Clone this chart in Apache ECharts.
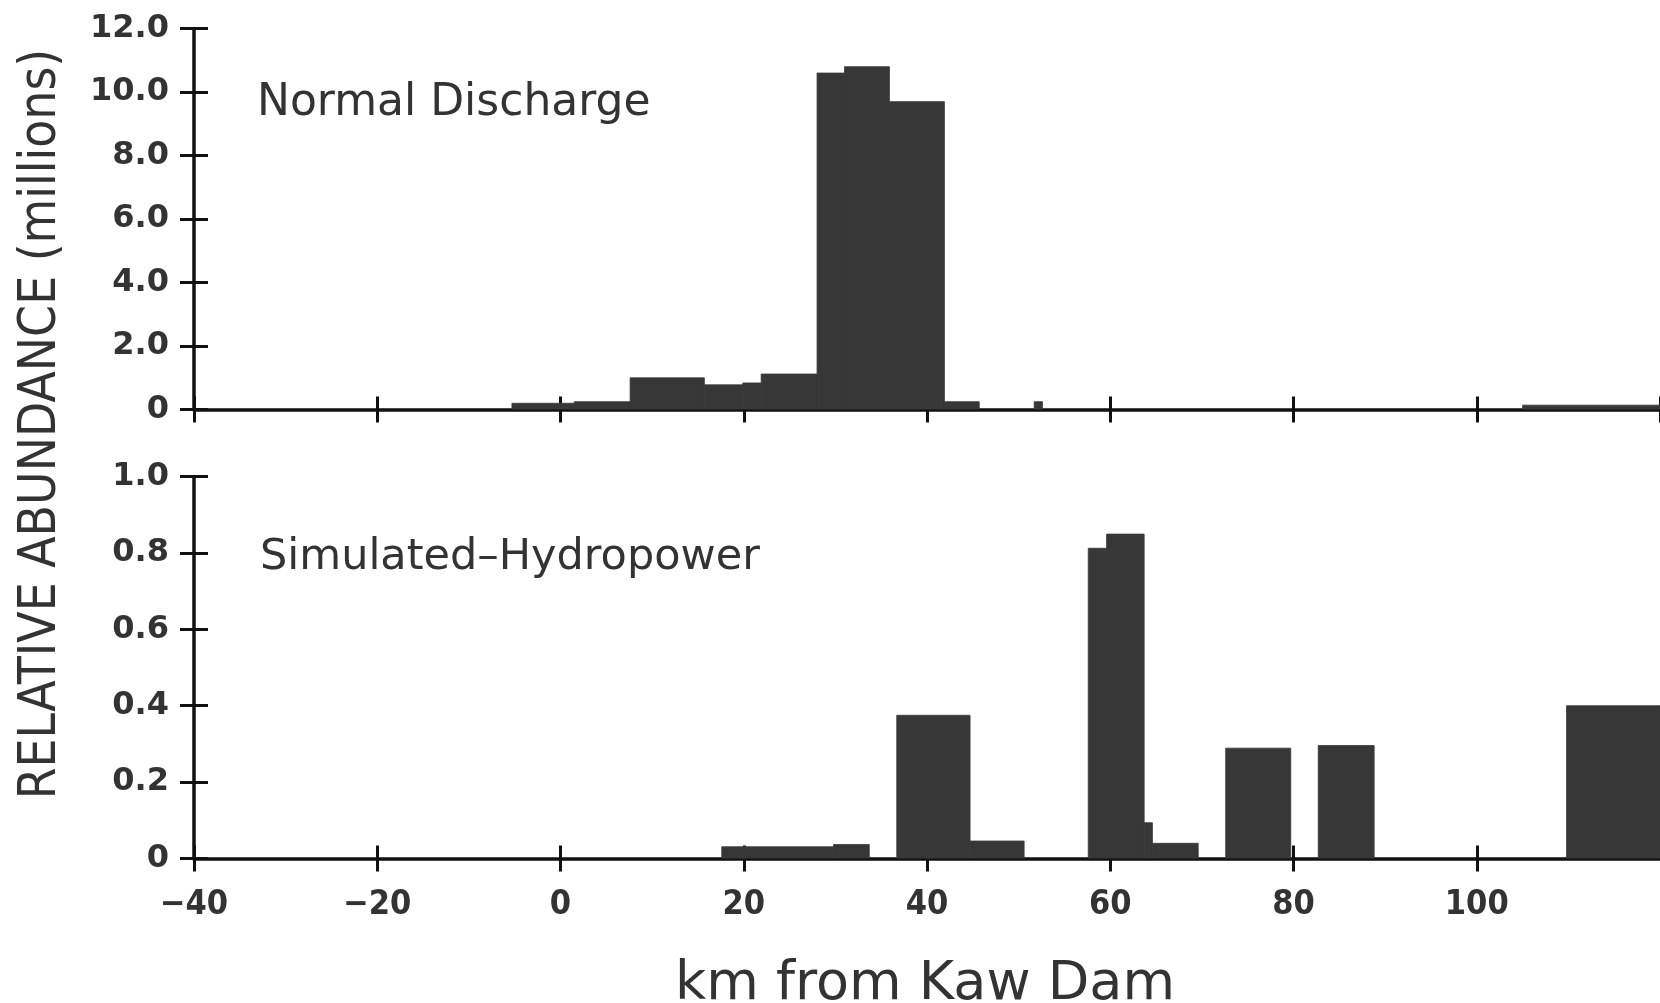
<!DOCTYPE html>
<html>
<head>
<meta charset="utf-8">
<script src="https://cdn.jsdelivr.net/npm/echarts@6/dist/echarts.min.js"></script>
<style>
  html, body { margin: 0; padding: 0; background: #fff; }
  #chart { width: 1660px; height: 1003px; }
</style>
</head>
<body>
<div id="chart"></div>
<script>
// ---- Data (km from Kaw Dam: bin start, bin end; relative abundance) ----
const xTicks = [-40, -20, 0, 20, 40, 60, 80, 100, 120];
const topYTicks = [0, 2, 4, 6, 8, 10, 12];
const botYTicks = [0, 0.2, 0.4, 0.6, 0.8, 1.0];

// Normal Discharge (millions)
const topStart = [-5.3, 1.5, 7.6, 15.7, 19.9, 21.9, 28.0, 31.0, 35.9, 41.9, 51.7, 105.0];
const topEnd   = [1.5, 7.6, 15.7, 19.9, 21.9, 28.0, 31.0, 35.9, 41.9, 45.7, 52.6, 120];
const topValue = [0.2, 0.25, 1.0, 0.78, 0.84, 1.12, 10.6, 10.8, 9.7, 0.25, 0.25, 0.14];

// Simulated-Hydropower
const botStart = [17.6, 29.8, 36.7, 44.7, 57.6, 59.6, 63.7, 64.6, 72.6, 82.7, 109.8];
const botEnd   = [29.8, 33.7, 44.7, 50.6, 59.6, 63.7, 64.6, 69.6, 79.7, 88.8, 120];
const botValue = [0.031, 0.037, 0.375, 0.046, 0.812, 0.849, 0.094, 0.04, 0.289, 0.296, 0.40];

const panelLabels = ['Normal Discharge', 'Simulated\u2013Hydropower'];
const yTitle = 'RELATIVE ABUNDANCE (millions)';
const xTitle = 'km from Kaw Dam';

// ---- Styling ----
const ink = '#111';
const textColor = '#333';
const barColor = '#373737';
const yLabelFont = { fontFamily: 'DejaVu Sans', fontWeight: 'bold', fontSize: 32, color: textColor };
const xLabelFont = { fontFamily: '"DejaVu Sans Condensed", Roboto, sans-serif', fontWeight: 'bold', fontSize: 34, color: textColor };

function fmtY(v) { return v === 0 ? '0' : v.toFixed(1); }
function fmtX(v) { return String(v).replace('-', '\u2212'); }

function makeX(gridIndex, inside, showLabels) {
  return {
    type: 'value', gridIndex: gridIndex, position: 'bottom',
    min: xTicks[0], max: xTicks[xTicks.length - 1], interval: xTicks[1] - xTicks[0],
    axisLine: { show: !inside, onZero: false, lineStyle: { color: ink, width: 3.5 } },
    axisTick: { show: true, inside: inside, length: 13, lineStyle: { color: ink, width: 3 } },
    axisLabel: Object.assign({ show: showLabels && !inside, margin: 30, showMaxLabel: false, formatter: fmtX }, xLabelFont),
    splitLine: { show: false }
  };
}
function makeY(gridIndex, inside, ticks) {
  return {
    type: 'value', gridIndex: gridIndex, position: 'left',
    min: ticks[0], max: ticks[ticks.length - 1], interval: ticks[1] - ticks[0],
    axisLine: { show: !inside, onZero: false, lineStyle: { color: ink, width: 3.5 } },
    axisTick: { show: true, inside: inside, length: 14, lineStyle: { color: ink, width: 3 } },
    axisLabel: Object.assign({ show: !inside, margin: 25, padding: [7, 0, 0, 0], formatter: fmtY }, yLabelFont),
    splitLine: { show: false }
  };
}

function renderItem(params, api) {
  const p0 = api.coord([api.value(0), api.value(2)]);
  const p1 = api.coord([api.value(1), 0]);
  return {
    type: 'rect',
    shape: { x: p0[0], y: p0[1], width: p1[0] - p0[0], height: p1[1] - p0[1] },
    style: { fill: barColor, stroke: barColor, lineWidth: 0.8 }
  };
}

const chart = echarts.init(document.getElementById('chart'), null, { renderer: 'canvas' });
chart.setOption({
  animation: false,
  backgroundColor: '#fff',
  grid: [
    { left: 194, right: -14, top: 28.6, height: 381 },
    { left: 194, right: -14, top: 476.4, height: 382.2 }
  ],
  xAxis: [makeX(0, false, false), makeX(1, false, true), makeX(0, true, false), makeX(1, true, false)],
  yAxis: [makeY(0, false, topYTicks), makeY(1, false, botYTicks), makeY(0, true, topYTicks), makeY(1, true, botYTicks)],
  series: [
    {
      type: 'custom', xAxisIndex: 0, yAxisIndex: 0, renderItem: renderItem, clip: true, silent: true,
      encode: { x: [0, 1], y: 2 },
      data: topStart.map((s, i) => [s, topEnd[i], topValue[i]])
    },
    {
      type: 'custom', xAxisIndex: 1, yAxisIndex: 1, renderItem: renderItem, clip: true, silent: true,
      encode: { x: [0, 1], y: 2 },
      data: botStart.map((s, i) => [s, botEnd[i], botValue[i]])
    }
  ],
  graphic: [
    {
      type: 'text', x: 42, y: 424, rotation: Math.PI / 2,
      style: { text: yTitle, fill: textColor, font: '51px "DejaVu Sans Condensed", Roboto, sans-serif', textAlign: 'center', textVerticalAlign: 'middle' }
    },
    {
      type: 'text', x: 257, y: 104,
      style: { text: panelLabels[0], fill: textColor, font: '44px "DejaVu Sans", sans-serif', textAlign: 'left', textVerticalAlign: 'middle' }
    },
    {
      type: 'text', x: 260, y: 558,
      style: { text: panelLabels[1], fill: textColor, font: '43px "DejaVu Sans", sans-serif', textAlign: 'left', textVerticalAlign: 'middle' }
    },
    {
      type: 'text', x: 925, y: 985,
      style: { text: xTitle, fill: textColor, font: '54px "DejaVu Sans", sans-serif', textAlign: 'center', textVerticalAlign: 'middle' }
    }
  ]
});
</script>
</body>
</html>
